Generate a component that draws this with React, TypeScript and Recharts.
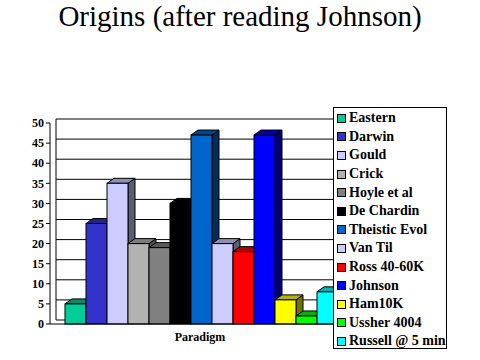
import { BarChart, Bar, XAxis, YAxis, CartesianGrid } from "recharts"

const categories = ["Paradigm"]
const seriesNames = [
  "Eastern",
  "Darwin",
  "Gould",
  "Crick",
  "Hoyle et al",
  "De Chardin",
  "Theistic Evol",
  "Van Til",
  "Ross 40-60K",
  "Johnson",
  "Ham10K",
  "Ussher 4004",
  "Russell @ 5 min",
]
const seriesValues = [5, 25, 35, 20, 19, 30, 47, 20, 18, 47, 6, 2, 8]
const seriesColors = [
  "#00CC99",
  "#3333CC",
  "#CCCCFF",
  "#B2B2B2",
  "#808080",
  "#000000",
  "#0066CC",
  "#CCCCFF",
  "#FF0000",
  "#0000FF",
  "#FFFF00",
  "#00FF00",
  "#00FFFF",
]
const yTicks = [0, 5, 10, 15, 20, 25, 30, 35, 40, 45, 50]

const DX = 7 // depth to the right
const DY = 5 // depth upwards

const data = categories.map((name) => {
  const row: Record<string, number | string> = { name }
  seriesNames.forEach((s, i) => {
    row[`s${i}`] = seriesValues[i]
  })
  return row
})

function shade(hex: string, k: number) {
  const n = parseInt(hex.slice(1), 16)
  const r = Math.round(((n >> 16) & 255) * k)
  const g = Math.round(((n >> 8) & 255) * k)
  const b = Math.round((n & 255) * k)
  return `rgb(${r},${g},${b})`
}

function Bar3D(props: any) {
  const { x, y, width: w, height: h, fill } = props
  if (w == null || h == null) return null
  return (
    <g stroke="#000" strokeWidth={1}>
      <polygon
        points={`${x + w},${y} ${x + w + DX},${y - DY} ${x + w + DX},${y + h - DY} ${x + w},${y + h}`}
        fill={shade(fill, 0.45)}
      />
      <polygon
        points={`${x},${y} ${x + DX},${y - DY} ${x + w + DX},${y - DY} ${x + w},${y}`}
        fill={shade(fill, 0.7)}
      />
      <rect x={x} y={y} width={w} height={h} fill={fill} />
    </g>
  )
}

function LegendBox() {
  return (
    <div
      style={{
        position: "absolute",
        left: 333,
        top: 107,
        width: 114,
        height: 242,
        border: "1px solid #000",
        background: "#fff",
        boxSizing: "border-box",
        paddingTop: 1,
        fontFamily: "Liberation Serif, serif",
        fontWeight: "bold",
        fontSize: 14,
      }}
    >
      {seriesNames.map((s, i) => (
        <div
          key={s}
          style={{ height: 18.6, display: "flex", alignItems: "center", paddingLeft: 3, whiteSpace: "nowrap" }}
        >
          <span
            style={{
              display: "inline-block",
              width: 7,
              height: 7,
              border: "1px solid #000",
              background: seriesColors[i],
              marginRight: 3,
            }}
          />
          {s}
        </div>
      ))}
    </div>
  )
}

export default function App() {
  return (
    <div style={{ position: "absolute", left: 0, top: 0, width: 480, height: 360, background: "#fff" }}>
      <div
        style={{
          position: "absolute",
          top: 0,
          left: 0,
          width: 480,
          textAlign: "center",
          fontFamily: "Liberation Serif, serif",
          fontSize: 29,
        }}
      >
        Origins (after reading Johnson)
      </div>
      <BarChart
        width={480}
        height={360}
        data={data}
        margin={{ top: 123, right: 130, bottom: 22, left: 8 }}
        barGap={0}
        barCategoryGap={15}
      >
        <CartesianGrid
          stroke="#000"
          horizontalValues={yTicks}
          horizontal={(p: any) => (
            <line key={p.key} x1={p.x1 + 6} x2={p.x2} y1={p.y1 - 4} y2={p.y2 - 4} stroke="#000" />
          )}
          verticalCoordinatesGenerator={({ offset }: any) => [offset.left + 6]}
          vertical={(p: any) => (
            <line key={p.key} x1={p.x1} x2={p.x2} y1={p.y1 - 4} y2={p.y2 - 4} stroke="#000" />
          )}
        />
        <XAxis
          dataKey="name"
          height={14}
          axisLine={{ stroke: "#000" }}
          tickLine={false}
          tick={{ fill: "#000", fontSize: 12, fontWeight: "bold", fontFamily: "Liberation Serif, serif" }}
        />
        <YAxis
          width={42}
          domain={[0, 50]}
          ticks={yTicks}
          interval={0}
          axisLine={{ stroke: "#000" }}
          tickLine={{ stroke: "#000" }}
          tickSize={4}
          tick={{ fill: "#000", fontSize: 12, fontWeight: "bold", fontFamily: "Liberation Serif, serif" }}
        />
        {seriesNames.map((s, i) => (
          <Bar
            key={s}
            dataKey={`s${i}`}
            name={s}
            fill={seriesColors[i]}
            shape={<Bar3D />}
            isAnimationActive={false}
          />
        ))}
      </BarChart>
      <LegendBox />
    </div>
  )
}
